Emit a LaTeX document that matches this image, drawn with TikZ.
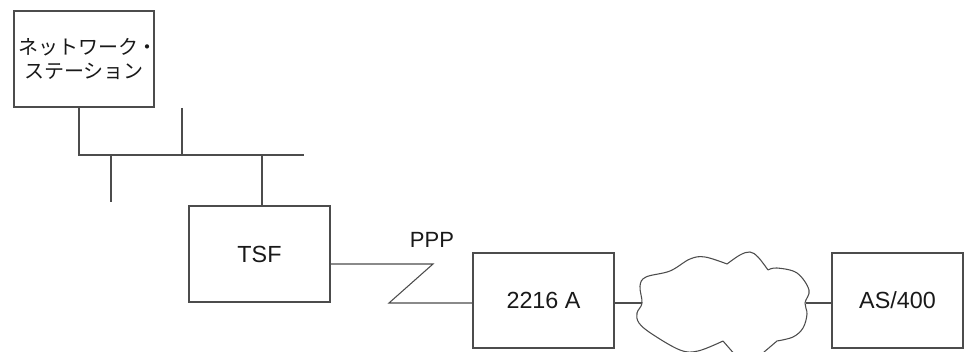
\documentclass[tikz,border=0pt]{standalone}
\usepackage{fontspec}
\setmainfont{Liberation Sans}
\newfontfamily\jpfont{Noto Sans CJK JP}
\begin{document}
\begin{tikzpicture}[x={(0.75pt,0)},y={(0,-0.75pt)},
  line/.style={draw=black!70,line width=0.8pt},
  box/.style={line,rectangle,inner sep=0pt,text=black!90,font=\fontsize{17.5}{21}\selectfont},
  lbl/.style={inner sep=0pt,text=black!90,font=\fontsize{16.5}{20}\selectfont}]
\useasboundingbox (0,0) rectangle (965,352);
\clip (0,0) rectangle (965,352);
% boxes
\node[box,minimum width=105pt,minimum height=72pt,
  label={[inner sep=0pt,align=center,text=black!90,font=\jpfont\fontsize{15}{18}\selectfont]center:{\kern6pt ネットワーク・\\ステーション}}] (ws) at (84,59) {};
\node[box,minimum width=105.75pt,minimum height=72pt] (tsf) at (259.5,254) {TSF};
\node[box,minimum width=105.75pt,minimum height=71.25pt] (r2216) at (543.5,300.5) {2216 A};
\node[box,minimum width=98.25pt,minimum height=71.25pt] (as) at (897.5,300.5) {AS/400};
\node[lbl] (ppp) at (432,240) {PPP};
% bus
\coordinate (busL) at (79,155);
\coordinate (busR) at (304,155);
\coordinate (stubA) at (182,108);
\coordinate (stubB) at (111,202);
\coordinate (tap) at (262,155);
\draw[line] (busL |- ws.south) -- (busL) -- (busR);
\draw[line] (stubA) -- (stubA |- busL);
\draw[line] (stubB |- busL) -- (stubB);
\draw[line] (tap) -- (tap |- tsf.north);
% PPP link
\coordinate (z1) at (433,264);
\coordinate (z2) at (389,303);
\draw[line] (tsf.east |- z1) -- (z1) -- (z2) -- (r2216.west |- z2);
% cloud
\coordinate (cloudL) at (642,303);
\coordinate (cloudR) at (806,303);
\draw[line,line join=round] plot[smooth,tension=0.6] coordinates {(727,264) (705,257) (690,259) (670,271) (646,277) (640,286) (642,303) (637,313) (639,323) (652,334) (680,350) (698,351) (723,341)}
  -- (743,364);
\draw[line,line join=round] plot[smooth,tension=0.6] coordinates {(727,264) (740,255) (750,252) (758,257) (768,270)};
\draw[line,line join=round] plot[smooth,tension=0.6] coordinates {(768,270) (777,268) (797,273) (809,290) (805,303) (807,314) (803,328) (793,337) (777,341)}
  -- (750,364);
\draw[line] (r2216.east |- cloudL) -- (cloudL);
\draw[line] (cloudR) -- (as.west |- cloudR);
\end{tikzpicture}
\end{document}
